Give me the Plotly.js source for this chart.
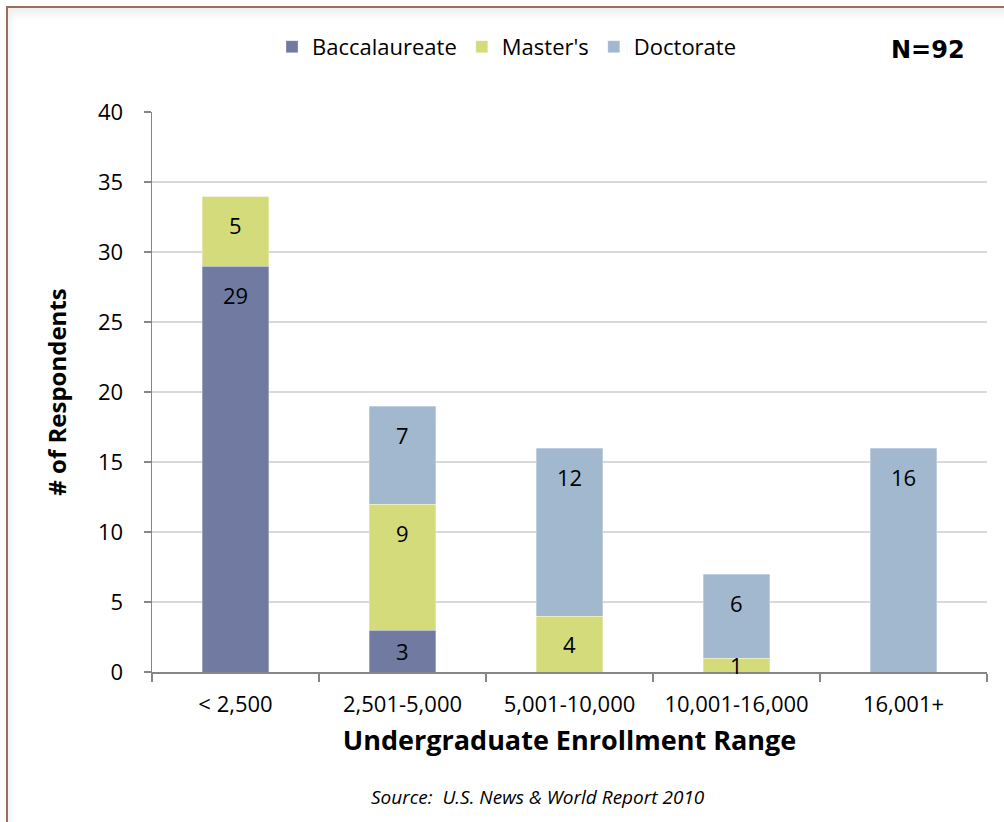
<!DOCTYPE html>
<html>
<head>
<meta charset="utf-8">
<script src="https://cdn.plot.ly/plotly-3.0.1.min.js"></script>
<style>
  body { margin: 0; background: #fff; }
  #wrap { position: relative; width: 1004px; height: 822px; overflow: hidden; }
  #frame {
    position: absolute; left: 6px; top: 6px; width: 1100px; height: 900px;
    border-left: 2px solid #9a6e5c; border-top: 2px solid #9a6e5c;
    box-shadow: inset 2px 6px 8px rgba(0,0,0,0.07);
    pointer-events: none;
  }
</style>
</head>
<body>
<div id="wrap">
  <div id="graph"></div>
  <div id="frame"></div>
</div>
<script>
// enrollment ranges and respondent counts
const categories = ["< 2,500", "2,501-5,000", "5,001-10,000", "10,001-16,000", "16,001+"];
const baccalaureate = [29, 3, 0, 0, 0];
const masters = [5, 9, 4, 1, 0];
const doctorate = [0, 7, 12, 6, 16];

const seriesNames = ["Baccalaureate", "Master's", "Doctorate"];
const seriesColors = ["#717ba1", "#d4db7b", "#a1b8cf"];
const seriesValues = [baccalaureate, masters, doctorate];

const FONT = "Open Sans, Noto Sans, Liberation Sans, sans-serif";

const data = seriesValues.map((vals, i) => ({
    type: "bar",
    name: seriesNames[i],
    x: categories,
    y: vals,
    marker: { color: seriesColors[i], line: { color: "rgba(255,255,255,0.5)", width: 0.6 } },
    hoverinfo: "skip"
}));

// value labels near the top inside each segment (like Excel "inside end")
const annotations = [];
const base = categories.map(() => 0);
seriesValues.forEach(vals => {
    vals.forEach((v, j) => {
        if (v > 0) {
            const top = base[j] + v;
            annotations.push({
                x: j, y: top - Math.min(2.05, v / 2),
                xref: "x", yref: "y", text: String(v), showarrow: false,
                xanchor: "center", yanchor: "middle",
                font: { family: FONT, size: 22, color: "#000" }
            });
        }
        base[j] += v;
    });
});

annotations.push({
    xref: "paper", yref: "paper", x: 0.976, y: 1.11,
    xanchor: "right", yanchor: "middle", showarrow: false,
    text: "<b>N=92</b>", font: { family: "DejaVu Sans, " + FONT, size: 24, color: "#000" }
});
annotations.push({
    xref: "paper", yref: "paper", x: 0.462, y: -0.223,
    xanchor: "center", yanchor: "middle", showarrow: false,
    text: "<i>Source:&nbsp; U.S. News &amp; World Report 2010</i>",
    font: { family: FONT, size: 19, color: "#000" }
});

const layout = {
    width: 1004,
    height: 822,
    margin: { l: 152, r: 17, t: 112, b: 150 },
    paper_bgcolor: "#fff",
    plot_bgcolor: "#fff",
    font: { family: FONT, color: "#000" },
    barmode: "stack",
    bargap: 0.6,
    showlegend: true,
    legend: {
        orientation: "h", xref: "container", yref: "container",
        x: 0.505, y: 0.943, xanchor: "center", yanchor: "middle",
        font: { family: FONT, size: 22, color: "#000" },
        traceorder: "normal"
    },
    xaxis: {
        type: "category",
        tickson: "boundaries",
        ticks: "outside", ticklen: 8, tickcolor: "#868686", tickwidth: 1.5,
        showline: true, linecolor: "#868686", linewidth: 1.5,
        ticklabelstandoff: 12,
        tickfont: { family: FONT, size: 22, color: "#000" },
        title: { text: "Undergraduate Enrollment Range", standoff: 14,
                 font: { family: FONT, size: 27, weight: "bold", color: "#000" } }
    },
    yaxis: {
        range: [0, 40], dtick: 5,
        ticks: "outside", ticklen: 7, tickcolor: "#868686", tickwidth: 1.5,
        showline: true, linecolor: "#868686", linewidth: 1.5,
        showgrid: true, gridcolor: "#d9d9d9", gridwidth: 1.5,
        zeroline: false,
        ticklabelstandoff: 16,
        tickfont: { family: FONT, size: 22, color: "#000" },
        title: { text: "# of Respondents", standoff: 24,
                 font: { family: FONT, size: 24, weight: "bold", color: "#000" } }
    },
    annotations: annotations
};

Plotly.newPlot("graph", data, layout, { displayModeBar: false, staticPlot: true });
</script>
</body>
</html>
